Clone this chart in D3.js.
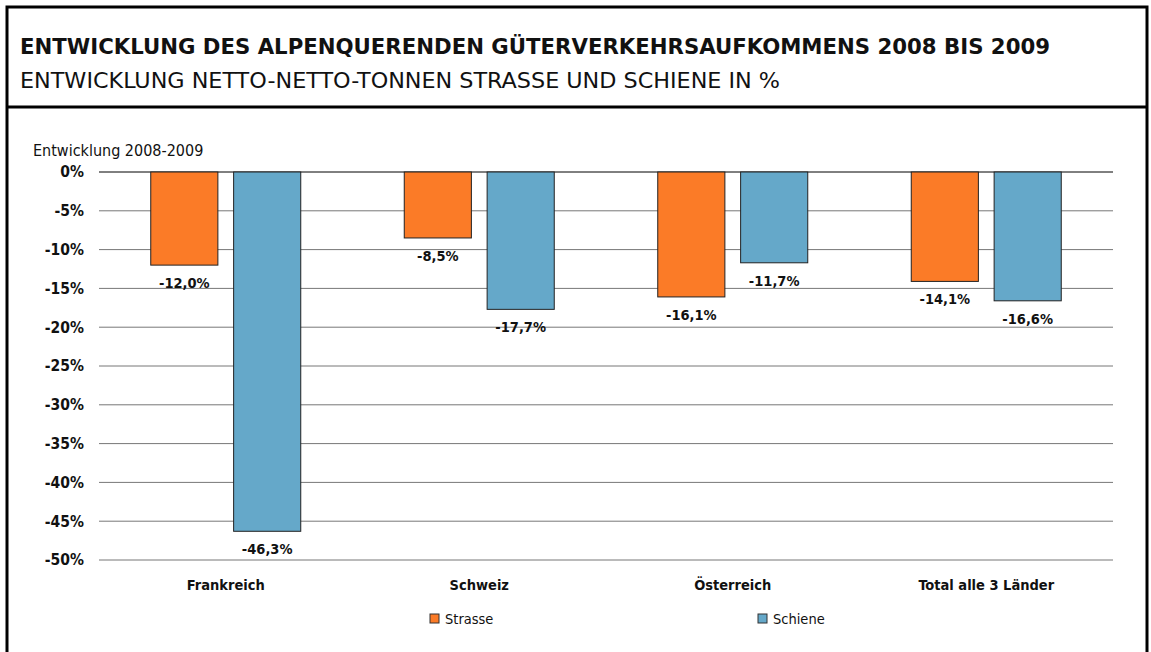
<!DOCTYPE html>
<html>
<head>
<meta charset="utf-8">
<script src="https://d3js.org/d3.v7.min.js"></script>
<style>
  body { margin: 0; background: #fff; }
  text { font-family: "DejaVu Sans Condensed", "DejaVu Sans", sans-serif; }
</style>
</head>
<body>
<div id="chart"></div>
<script>
var categories = ["Frankreich", "Schweiz", "Österreich", "Total alle 3 Länder"];
var series = ["Strasse", "Schiene"];
var strasse = [-12.0, -8.5, -16.1, -14.1];
var schiene = [-46.3, -17.7, -11.7, -16.6];
var yTicks = [0, -5, -10, -15, -20, -25, -30, -35, -40, -45, -50];
var colors = ["#fb7b27", "#65a8c9"];

var W = 1151, H = 652;
var svg = d3.select("#chart").append("svg").attr("width", W).attr("height", H);

// frame
svg.append("rect").attr("x", 7).attr("y", 7).attr("width", 1140).attr("height", 700)
  .attr("fill", "none").attr("stroke", "#000").attr("stroke-width", 3);
svg.append("line").attr("x1", 7).attr("x2", 1147).attr("y1", 107).attr("y2", 107)
  .attr("stroke", "#000").attr("stroke-width", 3);

svg.append("text").attr("x", 20).attr("y", 54)
  .style("font-size", "22px").style("font-weight", "bold").attr("fill", "#111")
  .attr("textLength", 1030).attr("lengthAdjust", "spacingAndGlyphs")
  .text("ENTWICKLUNG DES ALPENQUERENDEN GÜTERVERKEHRSAUFKOMMENS 2008 BIS 2009");
svg.append("text").attr("x", 20).attr("y", 88)
  .style("font-size", "22px").attr("fill", "#111")
  .attr("textLength", 760).attr("lengthAdjust", "spacingAndGlyphs")
  .text("ENTWICKLUNG NETTO-NETTO-TONNEN STRASSE UND SCHIENE IN %");

var left = 99, right = 1113;
var y = d3.scaleLinear().domain([0, -50]).range([172, 560]);
var x0 = d3.scaleBand().domain(categories).range([left, right]);
var x1 = d3.scaleBand().domain(series).range([x0.bandwidth() / 2 - 75, x0.bandwidth() / 2 + 75]).paddingInner(0.19);

// gridlines
svg.append("g").selectAll("line").data(yTicks).join("line")
  .attr("x1", left).attr("x2", right)
  .attr("y1", d => y(d)).attr("y2", d => y(d))
  .attr("stroke", d => d === 0 ? "#000" : "#777").attr("stroke-width", 1);

// y axis labels
var yAxis = d3.axisLeft(y).tickValues(yTicks).tickSize(0).tickPadding(0)
  .tickFormat(d => d + "%");
svg.append("g").attr("transform", "translate(84,0)").call(yAxis)
  .call(g => g.select(".domain").remove())
  .selectAll("text").style("font-size", "15.5px").style("font-weight", "bold").attr("fill", "#111")
  .style("font-family", "'DejaVu Sans Condensed', sans-serif");

svg.append("text").attr("x", 33).attr("y", 156).style("font-size", "16px").attr("fill", "#111")
  .text("Entwicklung 2008-2009");

var rows = categories.map((c, i) => ({cat: c, values: [
  {s: "Strasse", v: strasse[i]}, {s: "Schiene", v: schiene[i]}]}));

var groups = svg.append("g").selectAll("g").data(rows).join("g")
  .attr("transform", d => "translate(" + x0(d.cat) + ",0)");

groups.selectAll("rect").data(d => d.values).join("rect")
  .attr("x", d => x1(d.s)).attr("width", x1.bandwidth())
  .attr("y", y(0)).attr("height", d => y(d.v) - y(0))
  .attr("fill", (d, i) => colors[i]).attr("stroke", "#222").attr("stroke-width", 1);

groups.selectAll("text.val").data(d => d.values).join("text").attr("class", "val")
  .attr("x", d => x1(d.s) + x1.bandwidth() / 2).attr("y", d => y(d.v) + 23)
  .attr("text-anchor", "middle").style("font-size", "14.5px").style("font-weight", "bold").attr("fill", "#111")
  .text(d => d.v.toFixed(1).replace(".", ",") + "%");

// x axis labels
var xAxis = d3.axisBottom(x0).tickSize(0).tickPadding(0);
svg.append("g").attr("transform", "translate(0,580)").call(xAxis)
  .call(g => g.select(".domain").remove())
  .selectAll("text").style("font-size", "14.5px").style("font-weight", "bold").attr("fill", "#111")
  .style("font-family", "'DejaVu Sans Condensed', sans-serif");

// legend
var legendX = [430, 758];
var lg = svg.append("g").selectAll("g").data(series).join("g")
  .attr("transform", (d, i) => "translate(" + legendX[i] + ",614)");
lg.append("rect").attr("width", 9).attr("height", 9)
  .attr("fill", (d, i) => colors[i]).attr("stroke", "#333").attr("stroke-width", 1);
lg.append("text").attr("x", 15).attr("y", 10).style("font-size", "14.5px").attr("fill", "#111").text(d => d);
</script>
</body>
</html>
